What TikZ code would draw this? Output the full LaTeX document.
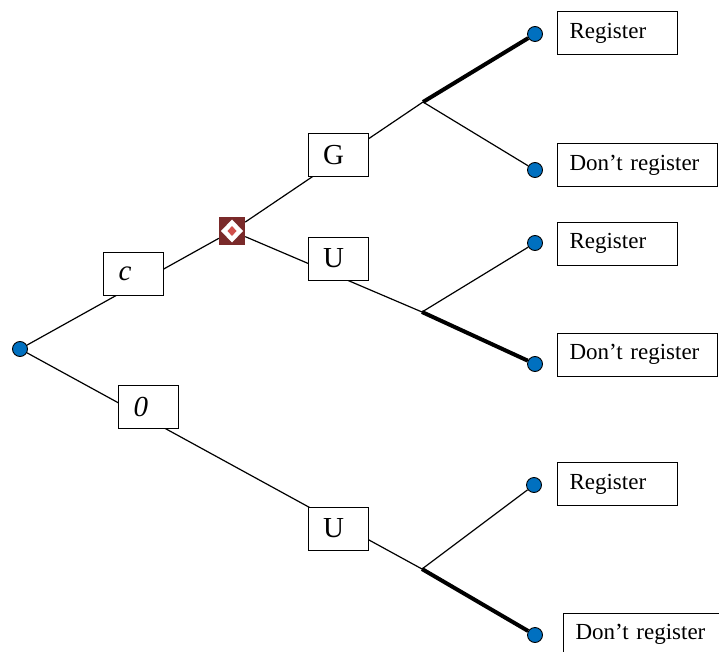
\documentclass[tikz,border=0pt]{standalone}
\usepackage{fontspec}
\setmainfont{Liberation Serif}
\definecolor{endblue}{HTML}{0070C0}
\definecolor{chancered}{HTML}{7A2A2A}
\definecolor{chancepink}{HTML}{D0504C}

\begin{document}
\begin{tikzpicture}[
  x=1pt, y=-1pt,
  every node/.style = {font=\fontsize{23}{27}\selectfont},
  endpt/.style      = {circle, draw=black, line width=0.9pt, fill=endblue,
                       minimum size=15pt, inner sep=0pt},
  chance/.style     = {rectangle, fill=chancered, minimum width=26pt,
                       minimum height=28pt, inner sep=0pt,
                       path picture={
                         \fill[white] (path picture bounding box.center)
                           ++(0,-11.5) -- ++(11,11.5) -- ++(-11,11.5) -- ++(-11,-11.5) -- cycle;
                         \fill[chancepink] (path picture bounding box.center)
                           ++(0,-5) -- ++(4.5,5) -- ++(-4.5,5) -- ++(-4.5,-5) -- cycle;}},
  actbox/.style     = {draw=black, fill=white, line width=1pt, minimum width=60pt,
                       minimum height=43pt, text width=30pt, inner xsep=15pt,
                       align=left, font=\fontsize{29}{33}\selectfont},
  choicebox/.style  = {draw=black, fill=white, line width=1pt, anchor=west,
                       minimum height=43pt, inner xsep=12pt, align=left,
                       text width=#1},
  branch/.style     = {line width=1.2pt},
  chosen/.style     = {line width=4pt},
]
  \useasboundingbox (0,0) rectangle (719,652);

  % ------------------------------------------------------------- decision
  \node[endpt]  (root) at (20,349) {};
  \node[chance] (nat)  at (232,231) {};

  \coordinate (b1) at (423,102);
  \coordinate (b2) at (422,312);
  \coordinate (b3) at (422,569);

  % -------------------------------------------------------------- leaves
  \node[endpt] (l1) at (535,34)  {};
  \node[endpt] (l2) at (535,170) {};
  \node[endpt] (l3) at (535,243) {};
  \node[endpt] (l4) at (535,364) {};
  \node[endpt] (l5) at (534,485) {};
  \node[endpt] (l6) at (535,635) {};

  % ------------------------------------------------------------ branches
  \draw[branch] (root) -- (nat);
  \draw[branch] (root) -- (b3);
  \draw[branch] (nat) -- (b1);
  \draw[branch] (nat) -- (b2);

  \draw[chosen] (b1) -- (l1);
  \draw[branch] (b1) -- (l2);
  \draw[branch] (b2) -- (l3);
  \draw[chosen] (b2) -- (l4);
  \draw[branch] (b3) -- (l5);
  \draw[chosen] (b3) -- (l6);

  % ------------------------------------------------------- branch labels
  \node[actbox] (cost) at (133.5,273.5) {\textit{c}};
  \node[actbox] (zero) at (148.5,407)   {\textit{0}};
  \node[actbox] (good) at (338,155)     {G};
  \node[actbox] (badA) at (338,258.5)   {U};
  \node[actbox] (badB) at (338,528.5)   {U};

  % ------------------------------------------------------- choice labels
  \node[choicebox=96pt]  (reg1)  at (557,33)    {Register};
  \node[choicebox=136pt] (dont1) at (557,165.5) {Don’t register};
  \node[choicebox=96pt]  (reg2)  at (557,243.5) {Register};
  \node[choicebox=136pt] (dont2) at (557,354.5) {Don’t register};
  \node[choicebox=96pt]  (reg3)  at (557,484)   {Register};
  \node[choicebox=136pt] (dont3) at (563,634.5) {Don’t register};

\end{tikzpicture}
\end{document}
